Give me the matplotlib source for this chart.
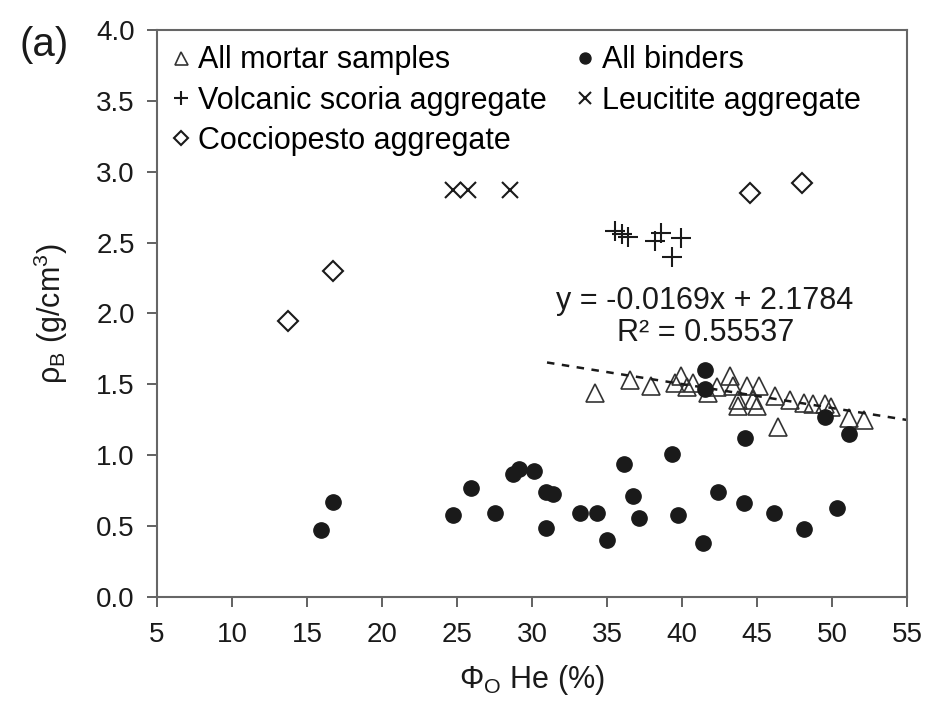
import numpy as np
import matplotlib
matplotlib.use("Agg")
import matplotlib.pyplot as plt

plt.rcParams['font.family'] = ['Liberation Sans', 'DejaVu Sans']
plt.rcParams['mathtext.fontset'] = 'custom'
plt.rcParams['mathtext.rm'] = 'Liberation Sans'
plt.rcParams['mathtext.it'] = 'Liberation Sans:italic'

# Dane
mortar_x = [34.2, 36.5, 37.9, 39.5, 39.9, 40.3, 40.7, 41.7, 42.3, 43.2, 43.4, 43.7,
            43.7, 44.3, 44.7, 45.0, 45.1, 46.2, 46.4, 47.2, 48.1, 48.7, 49.5, 49.9,
            51.1, 52.1]
mortar_y = [1.44, 1.53, 1.49, 1.51, 1.56, 1.48, 1.51, 1.44, 1.48, 1.56, 1.49, 1.39,
            1.35, 1.49, 1.39, 1.35, 1.49, 1.42, 1.20, 1.39, 1.37, 1.36, 1.36, 1.34,
            1.26, 1.25]

binder_x = [15.9, 16.7, 24.7, 25.9, 27.5, 28.7, 29.1, 30.1, 30.9, 30.9, 31.4, 33.2,
            34.3, 35.0, 36.1, 36.7, 37.1, 39.3, 39.7, 41.4, 41.5, 41.5, 42.4, 44.1,
            44.2, 46.1, 48.1, 49.5, 50.3, 51.1]
binder_y = [0.47, 0.67, 0.58, 0.77, 0.59, 0.87, 0.90, 0.89, 0.74, 0.49, 0.73, 0.59,
            0.59, 0.40, 0.94, 0.71, 0.56, 1.01, 0.58, 0.38, 1.47, 1.60, 0.74, 0.66,
            1.12, 0.59, 0.48, 1.27, 0.63, 1.15]

scoria_x = [35.5, 36.0, 36.4, 38.2, 38.6, 39.3, 39.9]
scoria_y = [2.58, 2.56, 2.54, 2.51, 2.57, 2.40, 2.53]

leucite_x = [24.7, 25.7, 28.5]
leucite_y = [2.87, 2.87, 2.87]

coccio_x = [13.7, 16.7, 44.5, 48.0]
coccio_y = [1.95, 2.30, 2.85, 2.92]

# linia trendu
slope, intercept = -0.0169, 2.1784
trend_x = np.array([31.0, 55.0])

fig = plt.figure(figsize=(9.3, 7.07), dpi=100)
ax = fig.add_axes([157/930, 1 - 597/707, 750/930, 567/707])

ink = '#1a1a1a'
h_tri, = ax.plot(mortar_x, mortar_y, ls='none', marker='^', ms=13, mfc='none',
                 mec='#333333', mew=1.2)
h_dot, = ax.plot(binder_x, binder_y, ls='none', marker='o', ms=11, mfc=ink, mec=ink)
h_plus, = ax.plot(scoria_x, scoria_y, ls='none', marker='+', ms=14, mec=ink, mew=1.5)
h_x, = ax.plot(leucite_x, leucite_y, ls='none', marker='x', ms=12, mec=ink, mew=1.5)
h_dia, = ax.plot(coccio_x, coccio_y, ls='none', marker='D', ms=10, mfc='none',
                 mec=ink, mew=1.5)
ax.plot(trend_x, slope * trend_x + intercept, ls=(0, (3, 3)), color=ink, lw=1.8)

ax.text(41.5, 2.09, "y = -0.0169x + 2.1784", ha='center', va='center', fontsize=22,
        color=ink)
ax.text(41.6, 1.86, "R² = 0.55537", ha='center', va='center', fontsize=22, color=ink)

ax.legend([h_tri, h_plus, h_dia, h_dot, h_x],
          ["All mortar samples", "Volcanic scoria aggregate", "Cocciopesto aggregate",
           "All binders", "Leucitite aggregate"],
          ncol=2, frameon=False, loc='upper left', bbox_to_anchor=(0.0, 1.0),
          fontsize=22, markerscale=0.72, handlelength=0.6, handletextpad=0.25,
          columnspacing=0.95, labelspacing=0.34, borderpad=0.3, borderaxespad=0.2)

ax.set_xlim(5, 55)
ax.set_ylim(0, 4)
ax.set_xticks(np.arange(5, 56, 5))
ax.set_yticks(np.arange(0, 4.01, 0.5))
ax.set_yticklabels([f"{v:.1f}" for v in np.arange(0, 4.01, 0.5)])
ax.tick_params(labelsize=20, colors='#555555', labelcolor=ink, length=7, width=1.3)
ax.tick_params(axis='x', pad=11)
ax.tick_params(axis='y', pad=9)
for s in ax.spines.values():
    s.set_color('#666666')
    s.set_linewidth(1.5)

ax.set_xlabel("Φ$_\\mathrm{O}$ He (%)", fontsize=22, color=ink, labelpad=11)
ax.set_ylabel("ρ$_\\mathrm{B}$ (g/cm$^3$)", fontsize=22, color=ink, labelpad=19)
fig.text(0.047, 0.936, "(a)", fontsize=29, ha='center', va='center', color=ink)

fig.savefig("out.png", dpi=100)
